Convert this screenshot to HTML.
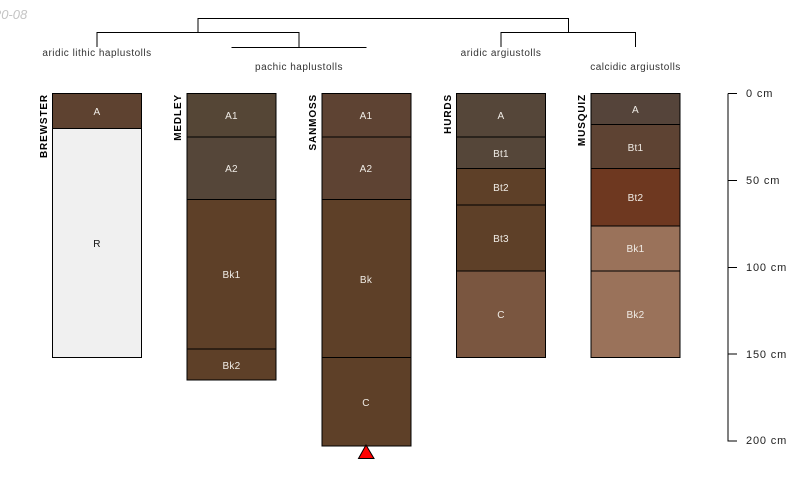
<!DOCTYPE html>
<html><head><meta charset="utf-8"><style>
html,body{margin:0;padding:0;background:#fff;width:800px;height:500px;overflow:hidden}
svg{display:block}
text{font-family:"Liberation Sans",sans-serif}
.h{font-size:10px;letter-spacing:.25px;fill:#f0ece6;text-anchor:middle}
.n{font-size:10px;font-weight:bold;letter-spacing:.85px;fill:#000;text-anchor:end}
.t{font-size:10px;letter-spacing:.5px;fill:#333;text-anchor:middle}
.d{font-size:11px;letter-spacing:.85px;fill:#222}
rect{stroke:#000;stroke-width:1}
</style></head><body>
<svg width="800" height="500" viewBox="0 0 800 500" xmlns="http://www.w3.org/2000/svg">
<text x="-20.500" y="19" font-size="13" font-style="italic" fill="#c4c4c4">2020-08</text>
<g fill="none" stroke="#000" stroke-width="1">
<path d="M198 32.500V18.500H568.500V32.500"/>
<path d="M97 47V32.500H299V47"/>
<path d="M231.500 47.500H366.500"/>
<path d="M501 47V32.500H635.500V47"/>
<path d="M728 93.500H737M728 93.500V441H737M728 180.500H737M728 267.500H737M728 354H737"/>
</g>
<text class="t" x="97" y="56">aridic lithic haplustolls</text>
<text class="t" x="299" y="70">pachic haplustolls</text>
<text class="t" x="501" y="56">aridic argiustolls</text>
<text class="t" x="635.500" y="70">calcidic argiustolls</text>
<text class="d" x="746" y="97">0 cm</text>
<text class="d" x="746" y="184">50 cm</text>
<text class="d" x="746" y="271">100 cm</text>
<text class="d" x="746" y="358">150 cm</text>
<text class="d" x="746" y="444">200 cm</text>
<rect x="52.500" y="93.500" width="89" height="35" fill="#5E4230"/>
<rect x="52.500" y="128.500" width="89" height="229" fill="#F0F0F0"/>
<rect x="187" y="93.500" width="89" height="43.500" fill="#554636"/>
<rect x="187" y="137" width="89" height="62.500" fill="#554639"/>
<rect x="187" y="199.500" width="89" height="149.500" fill="#5E4028"/>
<rect x="187" y="349" width="89" height="31" fill="#5E4028"/>
<rect x="322" y="93.500" width="89" height="43.500" fill="#5E4333"/>
<rect x="322" y="137" width="89" height="62.500" fill="#5E4333"/>
<rect x="322" y="199.500" width="89" height="158" fill="#5E4028"/>
<rect x="322" y="357.500" width="89" height="88.500" fill="#5E4028"/>
<rect x="456.500" y="93.500" width="89" height="43.500" fill="#554639"/>
<rect x="456.500" y="137" width="89" height="31.500" fill="#554639"/>
<rect x="456.500" y="168.500" width="89" height="36.500" fill="#5E4028"/>
<rect x="456.500" y="205" width="89" height="66" fill="#5E4028"/>
<rect x="456.500" y="271" width="89" height="86.500" fill="#7A5640"/>
<rect x="591" y="93.500" width="89" height="31" fill="#55443A"/>
<rect x="591" y="124.500" width="89" height="44" fill="#5E4333"/>
<rect x="591" y="168.500" width="89" height="57.500" fill="#6E3820"/>
<rect x="591" y="226" width="89" height="45" fill="#9A725A"/>
<rect x="591" y="271" width="89" height="86.500" fill="#9A725A"/>
<text class="h" x="97" y="115">A</text>
<text class="h" x="97" y="247" style="fill:#111">R</text>
<text class="h" x="231.500" y="119">A1</text>
<text class="h" x="231.500" y="172">A2</text>
<text class="h" x="231.500" y="278">Bk1</text>
<text class="h" x="231.500" y="369">Bk2</text>
<text class="h" x="366" y="119">A1</text>
<text class="h" x="366" y="172">A2</text>
<text class="h" x="366" y="283">Bk</text>
<text class="h" x="366" y="406">C</text>
<text class="h" x="501" y="119">A</text>
<text class="h" x="501" y="157">Bt1</text>
<text class="h" x="501" y="191">Bt2</text>
<text class="h" x="501" y="242">Bt3</text>
<text class="h" x="501" y="318">C</text>
<text class="h" x="635.500" y="113">A</text>
<text class="h" x="635.500" y="151">Bt1</text>
<text class="h" x="635.500" y="201">Bt2</text>
<text class="h" x="635.500" y="252">Bk1</text>
<text class="h" x="635.500" y="318">Bk2</text>
<text class="n" transform="translate(47,94) rotate(-90)">BREWSTER</text>
<text class="n" transform="translate(181,94) rotate(-90)">MEDLEY</text>
<text class="n" transform="translate(316,94) rotate(-90)">SANMOSS</text>
<text class="n" transform="translate(451,94) rotate(-90)">HURDS</text>
<text class="n" transform="translate(585,94) rotate(-90)">MUSQUIZ</text>
<polygon points="366,445 374,458.500 358.500,458.500" fill="#ff0000" stroke="#000" stroke-width="1"/>
</svg>
</body></html>
